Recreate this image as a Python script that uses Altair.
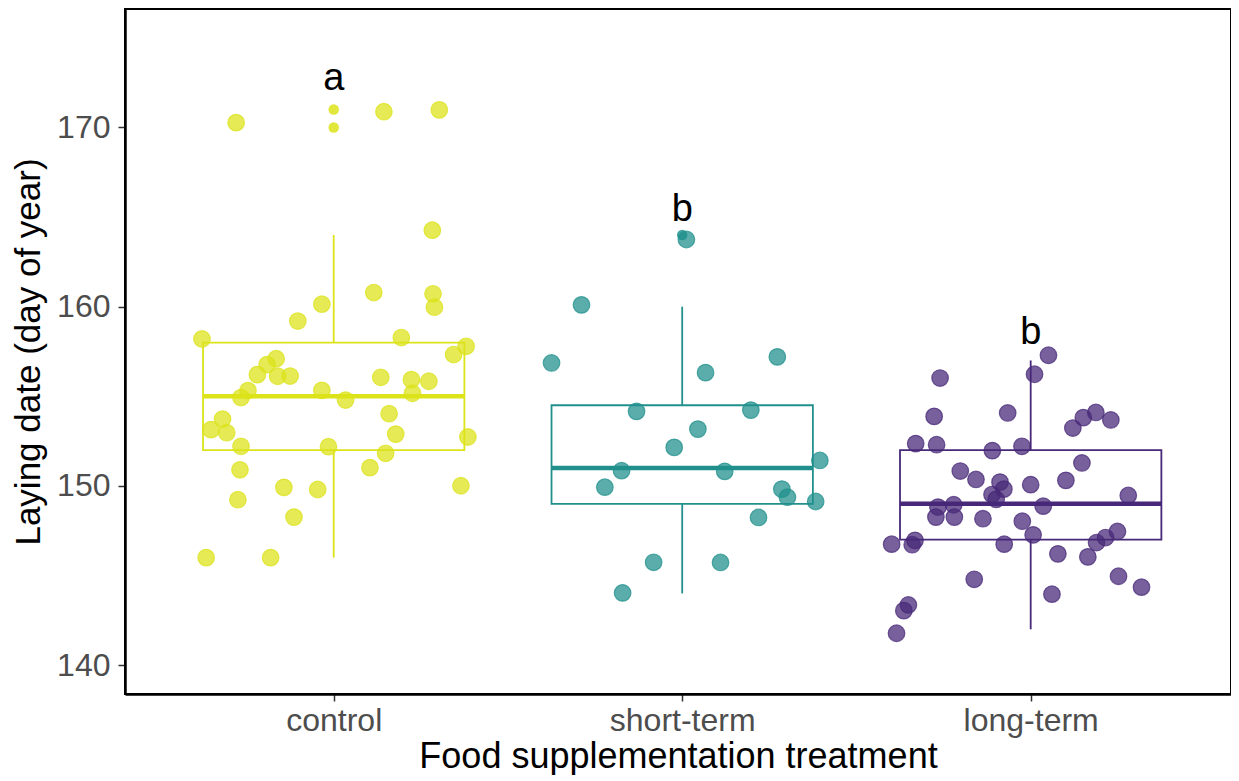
import altair as alt
import pandas as pd

groups = ["control", "short-term", "long-term"]
colors = ["#DCE319", "#21908C", "#482878"]

# jittered observations: horizontal jitter (category units) and laying date
ctrl_jit = [-0.28, 0.144, 0.303, 0.283, 0.115, 0.285, 0.289, -0.034, -0.103, -0.378,
            0.194, 0.380, 0.344, -0.165, -0.191, -0.219, -0.161, -0.125, 0.135, 0.223,
            0.273, 0.226, -0.246, -0.266, -0.034, 0.034, -0.319, -0.352, -0.307, 0.159,
            0.178, 0.385, -0.266, -0.015, 0.149, 0.104, -0.269, -0.143, -0.046, 0.365,
            -0.275, -0.114, -0.366, -0.181]
ctrl_day = [170.27, 170.88, 170.98, 164.27, 160.79, 160.72, 159.97, 160.14, 159.2, 158.2,
            158.28, 157.79, 157.33, 157.1, 156.77, 156.21, 156.12, 156.13, 156.06, 155.93,
            155.84, 155.17, 155.32, 154.93, 155.33, 154.79, 153.73, 153.14, 152.97, 154.03,
            152.89, 152.73, 152.21, 152.19, 151.82, 151.02, 150.9, 149.92, 149.8, 150.01,
            149.23, 148.26, 146.0, 146.0]

short_jit = [-0.289, -0.375, 0.067, 0.273, 0.012, -0.131, 0.197, 0.045, -0.023, 0.395,
             -0.174, 0.122, -0.222, 0.286, 0.302, 0.383, 0.219, -0.082, 0.110, -0.171]
short_day = [160.1, 156.86, 156.32, 157.2, 163.75, 154.16, 154.23, 153.17, 152.15, 151.42,
             150.85, 150.81, 149.93, 149.82, 149.37, 149.13, 148.24, 145.74, 145.73, 144.03]

long_jit = [0.051, 0.011, -0.260, -0.277, -0.066, 0.121, 0.151, 0.187, 0.230, -0.330,
            -0.270, -0.110, -0.025, 0.147, -0.202, -0.157, -0.088, -0.077, 0.0, 0.101,
            0.280, -0.111, -0.099, -0.266, -0.221, -0.272, -0.219, 0.036, -0.137, -0.024,
            0.007, -0.399, -0.340, -0.332, -0.076, 0.078, 0.164, 0.189, 0.215, 0.249,
            -0.162, 0.252, 0.318, 0.061, -0.351, -0.364, -0.385]
long_day = [157.29, 156.23, 156.02, 153.88, 154.07, 153.23, 153.81, 154.1, 153.68, 152.36,
            152.3, 151.97, 152.21, 151.28, 150.83, 150.36, 150.21, 149.82, 150.07, 150.31,
            149.47, 149.52, 149.25, 148.82, 148.95, 148.26, 148.26, 148.87, 148.17, 148.03,
            147.27, 146.75, 146.72, 146.96, 146.75, 146.21, 146.04, 146.84, 147.12, 147.46,
            144.79, 144.96, 144.35, 143.96, 143.36, 143.04, 141.78]

# boxplot statistics
box_lo = [146, 144, 142]
box_q1 = [152, 149, 147]
box_med = [155, 151, 149]
box_q3 = [158, 154.5, 152]
box_hi = [164, 160, 157]

# boxplot outliers
out_group = ["control", "control", "short-term"]
out_day = [170, 171, 164]

# significance letters
letters = ["a", "b", "b"]
letter_day = [172.09, 164.79, 157.94]

FONT = "Liberation Sans"
BOX_HALF = 0.375

rows = []
for g, jits, days in [("control", ctrl_jit, ctrl_day),
                      ("short-term", short_jit, short_day),
                      ("long-term", long_jit, long_day)]:
    idx = groups.index(g) + 1
    for j, d in zip(jits, days):
        rows.append({"group": g, "pos": idx + j, "day": d})
pts = pd.DataFrame(rows)

box = pd.DataFrame({
    "group": groups,
    "pos": [1, 2, 3],
    "lo": box_lo, "q1": box_q1, "med": box_med, "q3": box_q3, "hi": box_hi,
    "letter": letters, "ly": letter_day,
})
box["x1"] = box["pos"] - BOX_HALF
box["x2"] = box["pos"] + BOX_HALF

outl = pd.DataFrame({"group": out_group, "day": out_day})
outl["pos"] = [groups.index(g) + 1 for g in out_group]

xscale = alt.Scale(domain=[0.4011, 3.5748], nice=False, zero=False)
yscale = alt.Scale(domain=[138.39, 176.61], nice=False, zero=False)
cscale = alt.Scale(domain=groups, range=colors)

x_axis = alt.Axis(
    values=[1, 2, 3],
    labelExpr="datum.value == 1 ? 'control' : (datum.value == 2 ? 'short-term' : 'long-term')",
    title="Food supplementation treatment",
    grid=False, tickSize=7, tickColor="#333333", tickWidth=1.5,
    labelPadding=4, titlePadding=3, labelFontSize=32, titleFontSize=36,
    labelColor="#4D4D4D", titleColor="black", domainColor="black", domainWidth=2.5,
    labelFont=FONT, titleFont=FONT, titleFontWeight="normal",
)
y_axis = alt.Axis(
    values=[140, 150, 160, 170],
    title="Laying date (day of year)",
    grid=False, tickSize=7, tickColor="#333333", tickWidth=1.5,
    labelPadding=8, titlePadding=10, labelFontSize=32, titleFontSize=35,
    labelColor="#4D4D4D", titleColor="black", domainColor="black", domainWidth=2.5,
    labelFont=FONT, titleFont=FONT, titleFontWeight="normal",
)

base_box = alt.Chart(box)

whisk_up = base_box.mark_rule(strokeWidth=1.8).encode(
    x=alt.X("pos:Q", scale=xscale, axis=x_axis),
    y=alt.Y("hi:Q", scale=yscale, axis=y_axis),
    y2="q3:Q",
    color=alt.Color("group:N", scale=cscale, legend=None),
)
whisk_dn = base_box.mark_rule(strokeWidth=1.8).encode(
    x=alt.X("pos:Q", scale=xscale),
    y=alt.Y("q1:Q", scale=yscale),
    y2="lo:Q",
    color=alt.Color("group:N", scale=cscale, legend=None),
)
rect = base_box.mark_rect(filled=False, strokeWidth=1.8).encode(
    x=alt.X("x1:Q", scale=xscale),
    x2="x2:Q",
    y=alt.Y("q1:Q", scale=yscale),
    y2="q3:Q",
    color=alt.Color("group:N", scale=cscale, legend=None),
)
median = base_box.mark_rule(strokeWidth=4.5).encode(
    x=alt.X("x1:Q", scale=xscale),
    x2="x2:Q",
    y=alt.Y("med:Q", scale=yscale),
    color=alt.Color("group:N", scale=cscale, legend=None),
)
outliers = alt.Chart(outl).mark_circle(size=110, opacity=0.85).encode(
    x=alt.X("pos:Q", scale=xscale),
    y=alt.Y("day:Q", scale=yscale),
    color=alt.Color("group:N", scale=cscale, legend=None),
)
points = alt.Chart(pts).mark_circle(
    size=275, fillOpacity=0.74, strokeOpacity=0.74, strokeWidth=1.2
).encode(
    x=alt.X("pos:Q", scale=xscale),
    y=alt.Y("day:Q", scale=yscale),
    color=alt.Color("group:N", scale=cscale, legend=None),
    stroke=alt.Stroke("group:N", scale=cscale, legend=None),
)
labels = base_box.mark_text(
    font=FONT, fontSize=38, color="black", baseline="alphabetic", align="center"
).encode(
    x=alt.X("pos:Q", scale=xscale),
    y=alt.Y("ly:Q", scale=yscale),
    text="letter:N",
)

chart = alt.layer(whisk_up, whisk_dn, rect, median, outliers, points, labels).properties(
    width=1106,
    height=685,
    padding={"left": 117, "top": 1, "right": 0, "bottom": 81},
    autosize=alt.AutoSizeParams(type="none"),
    background="white",
).configure_view(stroke="black", strokeWidth=2)

chart.save("out.html", embed_options={"renderer": "svg", "actions": False})
